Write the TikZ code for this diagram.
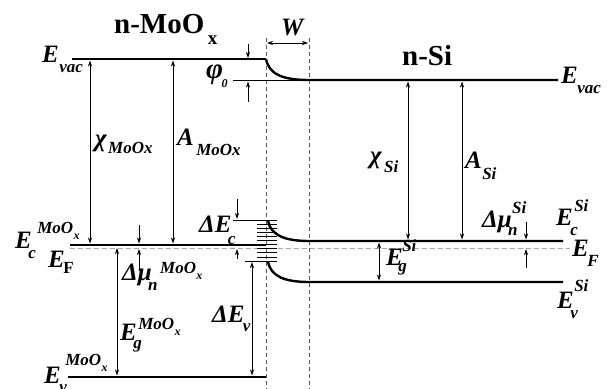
\documentclass[tikz,border=0pt]{standalone}
\usepackage{fontspec}
\setmainfont{Liberation Serif}
\usetikzlibrary{arrows.meta}
\tikzset{
  band/.style={line width=2.4pt},
  guide/.style={line width=0.7pt},
  hatch/.style={line width=0.7pt},
  vdashed/.style={line width=0.8pt, gray!70!black, dash pattern=on 4pt off 3pt},
  fdashed/.style={line width=0.8pt, gray!70, dash pattern=on 5pt off 3pt},
  arr/.style={line width=0.7pt,-{Stealth[length=6pt,width=4pt]}},
  darr/.style={line width=0.7pt,{Stealth[length=6pt,width=4pt]}-{Stealth[length=6pt,width=4pt]}},
  big/.style={inner sep=0pt,anchor=base west,font=\bfseries\itshape\fontsize{25}{25}\selectfont},
  sml/.style={inner sep=0pt,anchor=base west,font=\bfseries\itshape\fontsize{17}{17}\selectfont},
  tny/.style={inner sep=0pt,anchor=base west,font=\bfseries\itshape\fontsize{12}{12}\selectfont},
  ttl/.style={inner sep=0pt,anchor=base west,font=\bfseries\fontsize{29}{29}\selectfont},
}
\begin{document}
\begin{tikzpicture}[x=1pt,y=-1pt]
\useasboundingbox (0,0) rectangle (607,388);
\fill[white] (0,0) rectangle (607,388);

% dashed verticals (depletion region)
\draw[vdashed] (266,38) -- (266,392);
\draw[vdashed] (309,38) -- (309,392);
\draw[darr] (267,43) -- (308,43);

% Fermi level
\draw[fdashed] (70,248) -- (570,248);

% MoOx bands
\draw[band] (72,59) -- (266,59);
\draw[band] (70,245) -- (266,245);
\draw[band] (68,377) -- (266,377);

% Si bands with bending
\draw[band] (266,59) .. controls (269,74) and (282,80) .. (309,80) -- (558,80);
\draw[band] (268,221) .. controls (271,235) and (284,241) .. (309,241) -- (563,241);
\draw[band] (268,262) .. controls (271,276) and (284,282) .. (309,282) -- (563,282);

% interface states
\foreach \k in {1,...,9} \draw[hatch] (257,220+4.1*\k) -- (277,220+4.1*\k);
\draw[guide] (233,220) -- (277,220);
\draw[guide] (245,261) -- (277,261);

% phi0
\draw[guide] (233,80) -- (309,80);
\draw[arr] (248,44) -- (248,58);
\draw[arr] (248,102) -- (248,81.5);

% MoOx arrows
\draw[darr] (90,60.5) -- (90,243.5);
\draw[darr] (173,60.5) -- (173,243.5);
\draw[darr] (117,248) -- (117,375.5);
\draw[arr] (139,225) -- (139,243.5);
\draw[arr] (139,271) -- (139,249);
\draw[arr] (237,199) -- (237,219);
\draw[arr] (237,259) -- (237,249);
\draw[darr] (252,262) -- (252,375.5);

% Si arrows
\draw[darr] (408,81.5) -- (408,239.5);
\draw[darr] (462,81.5) -- (462,239.5);
\draw[darr] (379,242.5) -- (379,280.5);
\draw[arr] (526,222) -- (526,239.5);
\draw[arr] (526,268) -- (526,249);

% titles
\node[ttl] (t1) at (114,33) {n-MoO};
\node[inner sep=0pt,anchor=base west,font=\bfseries\fontsize{19}{19}\selectfont] (t1x) at ([shift={(3,11)}]t1.base east) {x};
\node[ttl] (t2) at (402,65) {n-Si};
\node[big] (w) at (281,35) {W};

% Evac labels
\node[big] (ev1) at (42,62) {E};
\node[sml] (ev1s) at ([shift={(0,10)}]ev1.base east) {vac};
\node[big] (ev2) at (561,83) {E};
\node[sml] (ev2s) at ([shift={(-1,10)}]ev2.base east) {vac};

% phi0
\node[inner sep=0pt,anchor=base west,font=\bfseries\itshape\fontsize{29}{29}\selectfont] (phi) at (206,78) {φ};
\node[tny] (phis) at ([shift={(-2,9)}]phi.base east) {0};

% chi, A
\node[big] (chi1) at (95,146) {χ};
\node[sml] (chi1s) at ([shift={(1,7)}]chi1.base east) {MoOx};
\node[big] (a1) at (177,145) {A};
\node[sml] (a1s) at ([shift={(2,10)}]a1.base east) {MoOx};
\node[big] (chi2) at (370,163) {χ};
\node[sml] (chi2s) at ([shift={(2,9)}]chi2.base east) {Si};
\node[big] (a2) at (465,168) {A};
\node[sml] (a2s) at ([shift={(0,11)}]a2.base east) {Si};

% Ec MoOx, EF
\node[big] (ec1) at (15,248) {E};
\node[sml] (ec1s) at ([shift={(5,-15)}]ec1.base east) {MoO};
\node[tny] (ec1x) at ([shift={(0,6)}]ec1s.base east) {x};
\node[sml] (ec1c) at ([shift={(-4,10)}]ec1.base east) {c};
\node[big] (ef1) at (48,267) {E};
\node[inner sep=0pt,anchor=base west,font=\bfseries\fontsize{17}{17}\selectfont] (ef1s) at ([shift={(-2,6)}]ef1.base east) {F};

% Delta mu MoOx
\node[big] (dm1) at (122,280) {Δμ};
\node[sml] (dm1n) at ([shift={(-4,10)}]dm1.base east) {n};
\node[sml] (dm1s) at ([shift={(8,-7)}]dm1.base east) {MoO};
\node[tny] (dm1x) at ([shift={(0,6)}]dm1s.base east) {x};

% Eg MoOx
\node[big] (eg1) at (120,340) {E};
\node[sml] (eg1g) at ([shift={(-4,8)}]eg1.base east) {g};
\node[sml] (eg1s) at ([shift={(1,-11)}]eg1.base east) {MoO};
\node[tny] (eg1x) at ([shift={(0,6)}]eg1s.base east) {x};

% Ev MoOx
\node[big] (evm) at (44,383) {E};
\node[sml] (evms) at ([shift={(4,-18)}]evm.base east) {MoO};
\node[tny] (evmx) at ([shift={(0,6)}]evms.base east) {x};
\node[sml] (evmv) at ([shift={(-2,9)}]evm.base east) {v};

% Delta Ec, Delta Ev
\node[big] (dec) at (199,232) {ΔE};
\node[sml] (decs) at ([shift={(-4,12)}]dec.base east) {c};
\node[big] (dev) at (212,322) {ΔE};
\node[sml] (devs) at ([shift={(-2,9)}]dev.base east) {v};

% Si labels
\node[big] (ec2) at (556,225) {E};
\node[sml] (ec2s) at ([shift={(1,-14)}]ec2.base east) {Si};
\node[sml] (ec2c) at ([shift={(-3,10)}]ec2.base east) {c};
\node[big] (ef2) at (572,256) {E};
\node[sml] (ef2s) at ([shift={(-2,10)}]ef2.base east) {F};
\node[big] (ev3) at (557,308) {E};
\node[sml] (ev3s) at ([shift={(0,-17)}]ev3.base east) {Si};
\node[sml] (ev3v) at ([shift={(-4,10)}]ev3.base east) {v};
\node[big] (dm2) at (482,227) {Δμ};
\node[sml] (dm2n) at ([shift={(-4,8)}]dm2.base east) {n};
\node[sml] (dm2s) at ([shift={(0,-14)}]dm2.base east) {Si};
\node[big] (eg2) at (386,265) {E};
\node[sml] (eg2s) at ([shift={(-1,-14)}]eg2.base east) {Si};
\node[sml] (eg2g) at ([shift={(-5,6)}]eg2.base east) {g};
\end{tikzpicture}
\end{document}
